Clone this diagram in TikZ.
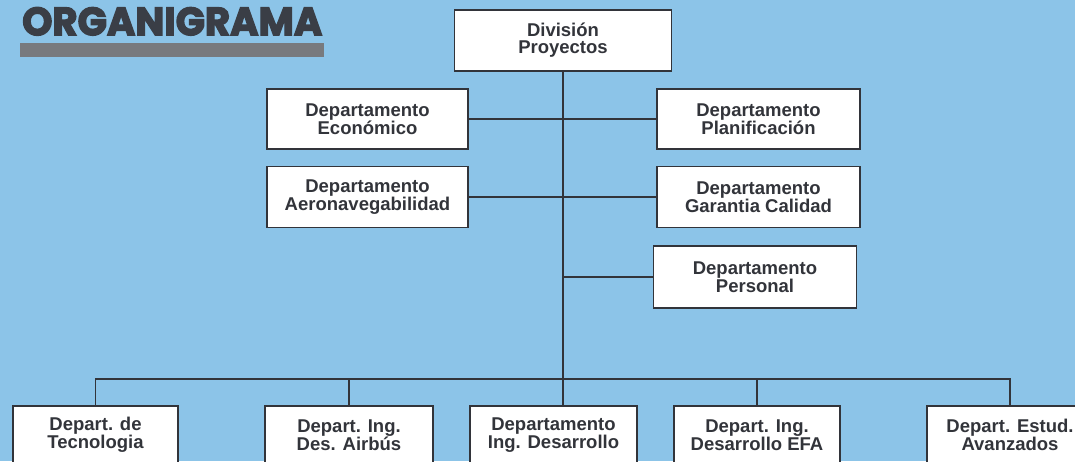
\documentclass[tikz,border=0pt]{standalone}
\usepackage{fontspec}
\usepackage{graphicx}
\setmainfont{Liberation Sans}
\newfontfamily\titlefont{Poppins}[BoldFeatures={FakeBold=3.5}]
\definecolor{bgblue}{RGB}{140,196,232}
\definecolor{inkgray}{RGB}{50,52,58}
\definecolor{bargray}{RGB}{120,122,126}
\definecolor{titlegray}{RGB}{58,62,70}
\tikzset{
  orgbox/.style={draw=inkgray, line width=1.8pt, fill=white, text=inkgray,
    align=center, inner sep=0pt,
    font=\bfseries\fontsize{18.5}{16.8}\selectfont},
  link/.style={draw=inkgray, line width=1.8pt}
}
\begin{document}
\begin{tikzpicture}[x=1pt,y=-1pt]
\useasboundingbox (0,0) rectangle (1075,461);
\fill[bgblue] (0,0) rectangle (1075,461);
% title
\node[anchor=north west, inner sep=0pt, text=titlegray] (title) at (22,7)
  {\resizebox{300pt}{28pt}{\titlefont\bfseries ORGANIGRAMA}};
\fill[bargray] (20,43) rectangle (324,57);
% boxes
\node[orgbox, minimum width=217pt, minimum height=61pt] (top) at (563,40.5) {División\\Proyectos};
\node[orgbox, minimum width=201pt, minimum height=60pt] (econ) at (367.5,119) {Departamento\\Económico};
\node[orgbox, minimum width=203pt, minimum height=60pt] (plan) at (758.5,119) {Departamento\\Planificación};
\node[orgbox, minimum width=201pt, minimum height=61pt] (aero) at (367.5,197) {Departamento\\Aeronavegabilidad};
\node[orgbox, minimum width=203pt, minimum height=61pt] (gar) at (758.5,197) {Departamento\\Garantia Calidad};
\node[orgbox, minimum width=203pt, minimum height=62pt] (pers) at (755,277) {Departamento\\Personal};
\node[orgbox, minimum width=165pt, minimum height=58pt] (tec) at (95.5,435) {Depart. de\\Tecnologia};
\node[orgbox, minimum width=168pt, minimum height=58pt] (airbus) at (349,435) {Depart. Ing.\\Des. Airbús};
\node[orgbox, minimum width=167pt, minimum height=58pt] (ingdes) at (553.5,435) {Departamento\\Ing. Desarrollo};
\node[orgbox, minimum width=166pt, minimum height=58pt] (efa) at (757,435) {Depart. Ing.\\Desarrollo EFA};
\node[orgbox, minimum width=166pt, minimum height=58pt] (estud) at (1010,435) {Depart. Estud.\\Avanzados};
\coordinate (bus) at (563,379);
% connectors
\draw[link] (top.south) -- (top.south |- ingdes.north);
\draw[link] (econ.east) -- (plan.west);
\draw[link] (aero.east) -- (gar.west);
\draw[link] (pers.west) -- (pers.west -| top.south);
\draw[link] (tec.north) |- (bus) -| (estud.north);
\draw[link] (airbus.north) -- (airbus.north |- bus);
\draw[link] (efa.north) -- (efa.north |- bus);
\end{tikzpicture}
\end{document}
